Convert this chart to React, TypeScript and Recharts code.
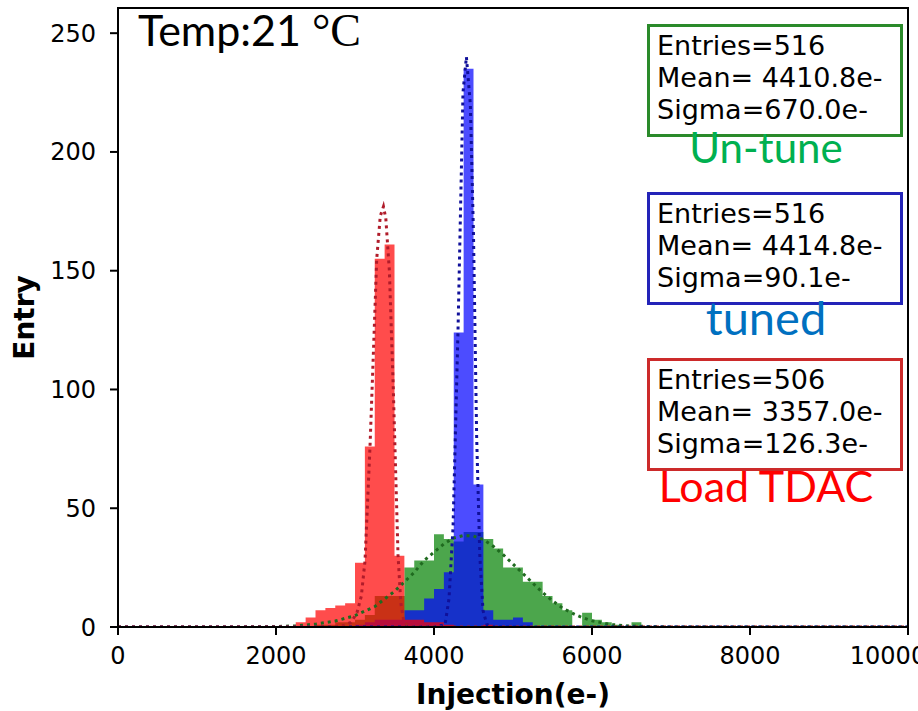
import React from "react";
import { Area, ComposedChart, Line, XAxis, YAxis } from "recharts";

// histogramas: contagens por bin de 125 e- (a partir do bin inicial)
const BIN = 125;
const greenStart = 2500;
const greenCounts = [1, 1, 2, 2, 3, 5, 13, 13, 13, 25, 28, 28, 39, 37, 36, 40, 40, 37, 33, 25, 25, 19, 19, 13, 10, 7, 0, 6, 3, 2, 1, 0, 2];
const blueStart = 3000;
const blueCounts = [1, 2, 3, 3, 3, 7, 7, 12, 16, 23, 124, 235, 60, 7, 3, 3, 4, 2];
const redStart = 2250;
const redCounts = [2, 4, 7, 8, 9, 10, 27, 76, 155, 161, 30, 3, 3, 2, 2, 1, 0, 0, 0, 1];

// curvas de ajuste (pontilhadas): [x, y]
const greenFit: [number, number][] = [
  [0, 0], [1500, 0], [2000, 0.2], [2250, 0.5], [2500, 1.2], [2750, 2.5], [3000, 4.8], [3250, 8.6],
  [3500, 15], [3625, 19], [3750, 23], [3875, 28], [4000, 31.5], [4125, 35], [4250, 37.5], [4375, 38.5],
  [4500, 38.3], [4625, 36.8], [4750, 34], [4875, 30.5], [5000, 26.5], [5125, 22.5], [5250, 18.5],
  [5375, 14.5], [5500, 11], [5625, 8], [5750, 5.8], [5875, 4], [6000, 2.6], [6250, 1], [6500, 0.4],
  [7000, 0], [10000, 0],
];
const blueFit: [number, number][] = [
  [0, 0], [4000, 0], [4140, 1], [4190, 12], [4241, 42], [4304, 125], [4367, 225], [4410, 240],
  [4460, 220], [4500, 165], [4540, 80], [4580, 30], [4620, 7], [4670, 1], [4750, 0], [10000, 0],
];
const redFit: [number, number][] = [
  [0, 0], [2700, 0], [2850, 0.5], [2950, 2], [3025, 6], [3080, 13], [3127, 28], [3190, 76], [3240, 122],
  [3275, 155], [3320, 173], [3360, 177], [3390, 172], [3435, 150], [3485, 100], [3545, 30], [3580, 10],
  [3620, 2], [3700, 0], [10000, 0],
];

const xTicks = [0, 2000, 4000, 6000, 8000, 10000];
const yTicks = [0, 50, 100, 150, 200, 250];

const caixas = [
  { top: 24, cor: "#2a8a2a", linhas: ["Entries=516", "Mean= 4410.8e-", "Sigma=670.0e-"], rotulo: "Un-tune", corRotulo: "#00b050", yRotulo: 163, tam: 42 },
  { top: 192, cor: "#2323b8", linhas: ["Entries=516", "Mean= 4414.8e-", "Sigma=90.1e-"], rotulo: "tuned", corRotulo: "#0070c0", yRotulo: 335, tam: 47 },
  { top: 358, cor: "#cc2a2a", linhas: ["Entries=506", "Mean= 3357.0e-", "Sigma=126.3e-"], rotulo: "Load TDAC", corRotulo: "#ff0000", yRotulo: 502, tam: 43 },
];

const hist = (start: number, counts: number[]) => {
  const pts = counts.map((c, i) => ({ x: start + i * BIN, y: c }));
  pts.push({ x: start + counts.length * BIN, y: 0 });
  return pts;
};
const fit = (p: [number, number][]) => p.map(([x, y]) => ({ x, y }));

const tickFont = { fontSize: 24, fill: "#000", fontFamily: "DejaVu Sans" };

export default function App() {
  return (
    <div style={{ position: "absolute", left: 0, top: 0, width: 918, height: 711, overflow: "hidden", background: "#fff" }}>
      <ComposedChart width={918} height={711} margin={{ top: 8, right: 10, left: 0, bottom: 0 }}>
        <XAxis
          dataKey="x"
          type="number"
          domain={[0, 10000]}
          ticks={xTicks}
          allowDataOverflow
          tick={tickFont}
          tickSize={8}
          tickMargin={12}
          height={84}
          stroke="#000"
          strokeWidth={2}
          tickLine={{ stroke: "#000", strokeWidth: 2 }}
          label={{ value: "Injection(e-)", position: "insideBottom", offset: 7, style: { fontSize: 28, fontWeight: 700, fill: "#000", fontFamily: "DejaVu Sans" } }}
        />
        <YAxis
          type="number"
          domain={[0, 260.6]}
          ticks={yTicks}
          allowDataOverflow
          width={118}
          tick={tickFont}
          tickSize={8}
          tickMargin={14}
          stroke="#000"
          strokeWidth={2}
          tickLine={{ stroke: "#000", strokeWidth: 2 }}
          label={{ value: "Entry", angle: -90, position: "insideLeft", offset: 24, style: { textAnchor: "middle", fontSize: 28, fontWeight: 700, fill: "#000", fontFamily: "DejaVu Sans" } }}
        />
        <Area data={hist(greenStart, greenCounts)} dataKey="y" type="stepAfter" stroke="none" fill="#008000" fillOpacity={0.7} isAnimationActive={false} />
        <Area data={hist(blueStart, blueCounts)} dataKey="y" type="stepAfter" stroke="none" fill="#0000ff" fillOpacity={0.7} isAnimationActive={false} />
        <Area data={hist(redStart, redCounts)} dataKey="y" type="stepAfter" stroke="none" fill="#ff0000" fillOpacity={0.7} isAnimationActive={false} />
        <Line data={fit(greenFit)} dataKey="y" type="linear" dot={false} stroke="#1f6a1f" strokeWidth={3} strokeDasharray="3 4" isAnimationActive={false} />
        <Line data={fit(blueFit)} dataKey="y" type="linear" dot={false} stroke="#10109a" strokeWidth={3} strokeDasharray="3 4" isAnimationActive={false} />
        <Line data={fit(redFit)} dataKey="y" type="linear" dot={false} stroke="#b01c2a" strokeWidth={3} strokeDasharray="3 4" isAnimationActive={false} />
      </ComposedChart>
      <svg width={918} height={711} style={{ position: "absolute", left: 0, top: 0, pointerEvents: "none" }}>
        <line x1={117} y1={8} x2={909} y2={8} stroke="#000" strokeWidth={2} />
        <line x1={908} y1={8} x2={908} y2={628} stroke="#000" strokeWidth={2} />
        <text x={138} y={46} fontFamily="Lato" fontSize={43} fill="#000">
          Temp:21{" "}
          <tspan fontFamily="Liberation Serif" fontSize={46}>°C</tspan>
        </text>
        {caixas.map((c) => (
          <g key={c.rotulo}>
            <rect x={648.5} y={c.top + 1.5} width={253} height={110} fill="#fff" stroke={c.cor} strokeWidth={3} />
            {c.linhas.map((l, i) => (
              <text key={l} x={657} y={c.top + 31 + i * 32} fontFamily="DejaVu Sans" fontSize={27} fill="#000">
                {l}
              </text>
            ))}
            <text x={766} y={c.yRotulo} textAnchor="middle" fontFamily="Lato" fontSize={c.tam} fill={c.corRotulo}>
              {c.rotulo}
            </text>
          </g>
        ))}
      </svg>
    </div>
  );
}
